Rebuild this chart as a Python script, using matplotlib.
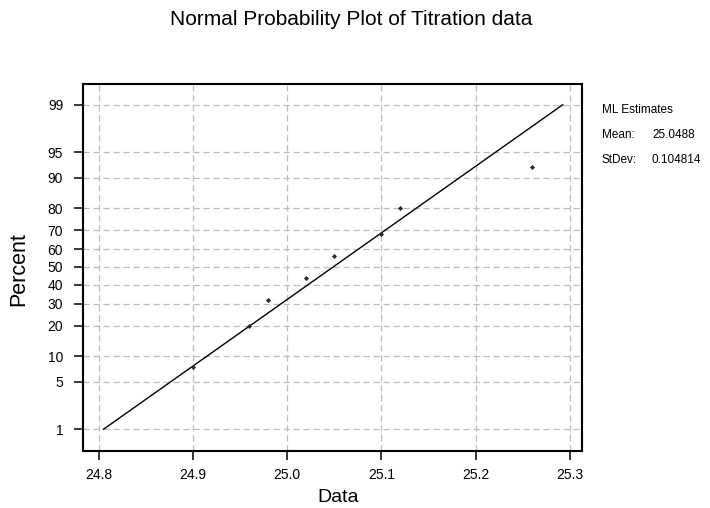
"""Normal probability plot of the titration data (Minitab-style layout)."""

from statistics import NormalDist

import matplotlib

matplotlib.use("Agg")
import matplotlib.pyplot as plt

plt.rcParams["font.family"] = ["Liberation Sans", "DejaVu Sans"]

DATA = [24.90, 24.96, 24.98, 25.02, 25.05, 25.10, 25.12, 25.26]
PERCENT = [7.6, 19.7, 31.8, 43.9, 56.1, 68.2, 80.3, 92.4]
MEAN = 25.0488
STDEV = 0.104814
Y_TICKS = [1, 5, 10, 20, 30, 40, 50, 60, 70, 80, 90, 95, 99]
X_TICKS = [24.8, 24.9, 25.0, 25.1, 25.2, 25.3]

W, H = 710, 508
ND = NormalDist()


def z(p):
    return ND.inv_cdf(p / 100.0)


def fx(px):
    return px / W


def fy(py):
    return 1 - py / H


fig = plt.figure(figsize=(W / 100, H / 100), dpi=100)
ax = fig.add_axes((fx(83.3), fy(450.7), (582 - 83.3) / W, (450.7 - 83.7) / H))

# fitted line from 1% to 99%
line_p = [1, 99]
line_x = [MEAN + STDEV * z(p) for p in line_p]
ax.plot(line_x, [z(p) for p in line_p], color="black", lw=1.0)
ax.plot(DATA, [z(p) for p in PERCENT], "D", color="#2a2a2a", ms=2.6, mew=0)

ax.set_xlim(24.7836, 25.313)
ax.set_ylim(-2.633, 2.627)
ax.set_yticks([z(p) for p in Y_TICKS])
ax.set_yticklabels([str(p) for p in Y_TICKS])
ax.set_xticks(X_TICKS)
ax.set_xticklabels([f"{v:.1f}" for v in X_TICKS])
ax.grid(True, color="#bdbdbd", ls=(0, (5, 3)), lw=0.9)
ax.tick_params(direction="out", length=6.5, width=1.1, labelsize=10)
ax.tick_params(axis="y", pad=8)
ax.tick_params(axis="x", pad=6)
ax.tick_params(top=False, right=False)
for s in ax.spines.values():
    s.set_linewidth(1.5)

fig.text(fx(338), fy(502), "Data", ha="center", va="baseline", fontsize=14)
fig.text(fx(18.5), fy(269.5), "Percent", ha="center", va="center", rotation=90, fontsize=15.5)
fig.text(fx(351.5), fy(25), "Normal Probability Plot of Titration data", ha="center", va="baseline", fontsize=15)

fig.text(fx(602), fy(113), "ML Estimates", fontsize=8.5, va="baseline")
fig.text(fx(602), fy(138), "Mean:", fontsize=8.5, va="baseline")
fig.text(fx(652), fy(138), f"{MEAN}", fontsize=8.5, va="baseline")
fig.text(fx(602), fy(163), "StDev:", fontsize=8.5, va="baseline")
fig.text(fx(652), fy(163), f"{STDEV}", fontsize=8.5, va="baseline")

fig.savefig("out.png", dpi=100)
